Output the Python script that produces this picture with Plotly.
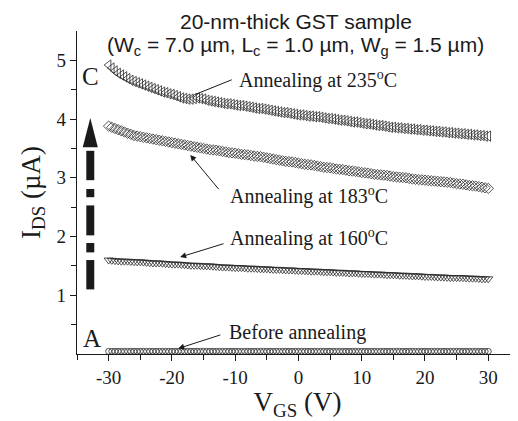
import plotly.graph_objects as go

# gate sweep: -30 V to 30 V in 0.5 V steps (121 points)
vgs = [v / 2 for v in range(-60, 61)]

i_235 = [4.92, 4.87, 4.82, 4.78, 4.75, 4.72, 4.69, 4.66, 4.64, 4.62,
         4.60, 4.58, 4.56, 4.54, 4.52, 4.50, 4.48, 4.46, 4.45, 4.43,
         4.42, 4.40, 4.38, 4.36, 4.35, 4.34, 4.34, 4.35, 4.36, 4.35,
         4.34, 4.32, 4.31, 4.30, 4.29, 4.28, 4.27, 4.26, 4.26, 4.25,
         4.24, 4.23, 4.23, 4.22, 4.21, 4.20, 4.19, 4.18, 4.18, 4.17,
         4.16, 4.15, 4.14, 4.13, 4.12, 4.11, 4.11, 4.10, 4.09, 4.08,
         4.07, 4.07, 4.06, 4.05, 4.05, 4.04, 4.04, 4.03, 4.02, 4.01,
         4.01, 4.00, 3.99, 3.98, 3.98, 3.97, 3.96, 3.95, 3.95, 3.94,
         3.93, 3.92, 3.92, 3.91, 3.90, 3.89, 3.89, 3.88, 3.87, 3.86,
         3.86, 3.85, 3.85, 3.84, 3.84, 3.83, 3.83, 3.82, 3.82, 3.81,
         3.81, 3.80, 3.80, 3.79, 3.79, 3.78, 3.78, 3.77, 3.77, 3.76,
         3.76, 3.75, 3.75, 3.74, 3.74, 3.73, 3.73, 3.72, 3.72, 3.71,
         3.71]

i_183 = [3.88, 3.86, 3.84, 3.82, 3.80, 3.78, 3.76, 3.74, 3.72, 3.71,
         3.70, 3.69, 3.68, 3.67, 3.66, 3.65, 3.64, 3.63, 3.62, 3.61,
         3.60, 3.59, 3.58, 3.57, 3.56, 3.55, 3.54, 3.53, 3.52, 3.51,
         3.50, 3.49, 3.48, 3.475, 3.47, 3.46, 3.45, 3.44, 3.43, 3.425,
         3.42, 3.41, 3.40, 3.395, 3.39, 3.38, 3.37, 3.365, 3.36, 3.35,
         3.34, 3.33, 3.32, 3.31, 3.30, 3.29, 3.28, 3.275, 3.27, 3.26,
         3.25, 3.24, 3.23, 3.225, 3.22, 3.21, 3.20, 3.19, 3.18, 3.175,
         3.17, 3.16, 3.15, 3.145, 3.14, 3.13, 3.12, 3.115, 3.11, 3.10,
         3.09, 3.085, 3.08, 3.07, 3.06, 3.055, 3.05, 3.045, 3.04, 3.03,
         3.02, 3.015, 3.01, 3.005, 3.00, 2.99, 2.98, 2.975, 2.97, 2.965,
         2.96, 2.955, 2.95, 2.945, 2.94, 2.935, 2.93, 2.925, 2.92, 2.91,
         2.90, 2.895, 2.89, 2.88, 2.87, 2.865, 2.86, 2.85, 2.84, 2.83,
         2.82]

i_160 = [1.60, 1.595, 1.59, 1.585, 1.58, 1.58, 1.58, 1.575, 1.57, 1.57,
         1.57, 1.565, 1.56, 1.555, 1.55, 1.55, 1.55, 1.545, 1.54, 1.535,
         1.53, 1.53, 1.53, 1.525, 1.52, 1.515, 1.51, 1.51, 1.51, 1.505,
         1.50, 1.50, 1.50, 1.495, 1.49, 1.485, 1.48, 1.48, 1.48, 1.475,
         1.47, 1.47, 1.47, 1.465, 1.46, 1.46, 1.46, 1.455, 1.45, 1.45,
         1.45, 1.445, 1.44, 1.44, 1.44, 1.435, 1.43, 1.43, 1.43, 1.425,
         1.42, 1.42, 1.42, 1.415, 1.41, 1.41, 1.41, 1.405, 1.40, 1.40,
         1.40, 1.395, 1.39, 1.39, 1.39, 1.385, 1.38, 1.38, 1.38, 1.375,
         1.37, 1.37, 1.37, 1.365, 1.36, 1.36, 1.36, 1.355, 1.35, 1.35,
         1.35, 1.345, 1.34, 1.34, 1.34, 1.335, 1.33, 1.33, 1.33, 1.325,
         1.32, 1.32, 1.32, 1.315, 1.31, 1.31, 1.31, 1.305, 1.30, 1.30,
         1.30, 1.30, 1.30, 1.295, 1.29, 1.29, 1.29, 1.285, 1.28, 1.28,
         1.28]

i_before = [0.045, 0.045, 0.045, 0.045, 0.045, 0.045, 0.045, 0.045, 0.045, 0.045,
            0.045, 0.045, 0.045, 0.045, 0.045, 0.045, 0.045, 0.045, 0.045, 0.045,
            0.045, 0.045, 0.045, 0.045, 0.045, 0.045, 0.045, 0.045, 0.045, 0.045,
            0.045, 0.045, 0.045, 0.045, 0.045, 0.045, 0.045, 0.045, 0.045, 0.045,
            0.045, 0.045, 0.045, 0.045, 0.045, 0.045, 0.045, 0.045, 0.045, 0.045,
            0.045, 0.045, 0.045, 0.045, 0.045, 0.045, 0.045, 0.045, 0.045, 0.045,
            0.045, 0.045, 0.045, 0.045, 0.045, 0.045, 0.045, 0.045, 0.045, 0.045,
            0.045, 0.045, 0.045, 0.045, 0.045, 0.045, 0.045, 0.045, 0.045, 0.045,
            0.045, 0.045, 0.045, 0.045, 0.045, 0.045, 0.045, 0.045, 0.045, 0.045,
            0.045, 0.045, 0.045, 0.045, 0.045, 0.045, 0.045, 0.045, 0.045, 0.045,
            0.045, 0.045, 0.045, 0.045, 0.045, 0.045, 0.045, 0.045, 0.045, 0.045,
            0.045, 0.045, 0.045, 0.045, 0.045, 0.045, 0.045, 0.045, 0.045, 0.045,
            0.045]

x_ticks = [-30, -20, -10, 0, 10, 20, 30]
x_ticktext = ["-30", "-20", "-10", "0", "10", "20", "30"]
y_ticks = [1, 2, 3, 4, 5]

INK = "#1a1a1a"
SERIF = "Liberation Serif, Times New Roman, serif"
SANS = "Liberation Sans, Arial, sans-serif"

fig = go.Figure()
series = [
    (i_235, "triangle-left-open", 9),
    (i_183, "diamond-open", 8),
    (i_160, "triangle-down-open", 8),
    (i_before, "circle-open", 6),
]
for ys, sym, sz in series:
    fig.add_trace(go.Scatter(x=vgs[:len(ys)], y=ys, mode="markers",
                             marker=dict(symbol=sym, size=sz, color="#2a2a2a",
                                         line=dict(width=0.8, color="#2a2a2a")),
                             showlegend=False, cliponaxis=False))

# big dash-dot arrow
cx = -32.9
hw = 0.63
for y0, y1 in [(1.10, 1.60), (1.73, 1.89), (2.02, 2.53), (2.67, 2.81), (2.96, 3.46)]:
    fig.add_shape(type="rect", xref="x", yref="y", x0=cx - hw, x1=cx + hw, y0=y0, y1=y1,
                  fillcolor=INK, line=dict(width=0))
fig.add_shape(type="path", xref="x", yref="y",
              path=f"M {cx-1.19},3.52 L {cx+1.19},3.52 L {cx},4.02 Z",
              fillcolor=INK, line=dict(width=0))

ann_font = dict(family=SERIF, size=20, color=INK)
labels = [
    ("Annealing at 235<sup>o</sup>C", -9.7, 4.67, -16.3, 4.42, -10.3, 4.68, 0),
    ("Annealing at 183<sup>o</sup>C", -11.1, 2.70, -17.1, 3.39, -12.4, 2.78, 2),
    ("Annealing at 160<sup>o</sup>C", -11.1, 1.99, -18.7, 1.65, -11.6, 1.886, 2),
    ("Before annealing", -11.3, 0.372, -19.0, 0.094, -12.1, 0.333, 2),
]
for txt, tx, ty, x, y, ax, ay, head in labels:
    fig.add_annotation(x=x, y=y, ax=ax, ay=ay, xref="x", yref="y", axref="x", ayref="y",
                       text="", showarrow=True, arrowhead=head, arrowsize=1.2, arrowwidth=1,
                       arrowcolor=INK, standoff=0, startstandoff=0)
    fig.add_annotation(x=tx, y=ty, xref="x", yref="y", text=txt, showarrow=False,
                       xanchor="left", yanchor="middle", font=ann_font)

fig.add_annotation(x=-32.9, y=4.72, xref="x", yref="y", text="C", showarrow=False,
                   font=dict(family=SERIF, size=25, color=INK))
fig.add_annotation(x=-32.6, y=0.26, xref="x", yref="y", text="A", showarrow=False,
                   font=dict(family=SERIF, size=25, color=INK))

fig.add_annotation(x=(296 - 77) / 441, y=(354 - 22) / 323, xref="paper", yref="paper",
                   text="20-nm-thick GST sample", showarrow=False,
                   font=dict(family=SANS, size=21, color=INK), yanchor="middle")
fig.add_annotation(x=(295 - 77) / 441, y=(354 - 46) / 323, xref="paper", yref="paper",
                   text="(W<sub>c</sub> = 7.0 \u00b5m, L<sub>c</sub> = 1.0 \u00b5m, W<sub>g</sub> = 1.5 \u00b5m)",
                   showarrow=False, font=dict(family=SANS, size=21, color=INK), yanchor="middle")

axis_common = dict(showline=True, linecolor=INK, linewidth=1.3, ticks="outside", ticklen=6,
                   tickwidth=1.2, tickcolor=INK, showgrid=False, zeroline=False, automargin=False,
                   tickfont=dict(family=SERIF, size=19, color=INK))
fig.update_xaxes(range=[-35, 34.7], tickvals=x_ticks, ticktext=x_ticktext,
                 minor=dict(tickvals=[-35, -25, -15, -5, 5, 15, 25], ticks="outside", ticklen=5,
                            tickwidth=1.2, tickcolor=INK),
                 title=dict(text="V<sub>GS</sub> (V)", font=dict(family=SERIF, size=27, color=INK), standoff=2),
                 **axis_common)
fig.update_yaxes(range=[0, 5.5], tickvals=y_ticks,
                 minor=dict(tickvals=[0.5, 1.5, 2.5, 3.5, 4.5], ticks="outside", ticklen=5,
                            tickwidth=1.2, tickcolor=INK),
                 title=dict(text="I<sub>DS</sub> (\u00b5A)", font=dict(family=SERIF, size=27, color=INK), standoff=8),
                 **axis_common)

# the page body adds an 8 px offset, so the figure is 8 px smaller and its left/top margins 8 px less
fig.update_layout(width=510, height=413, margin=dict(l=69, r=0, t=23, b=67),
                  paper_bgcolor="white", plot_bgcolor="white")

fig.write_html("out.html")
